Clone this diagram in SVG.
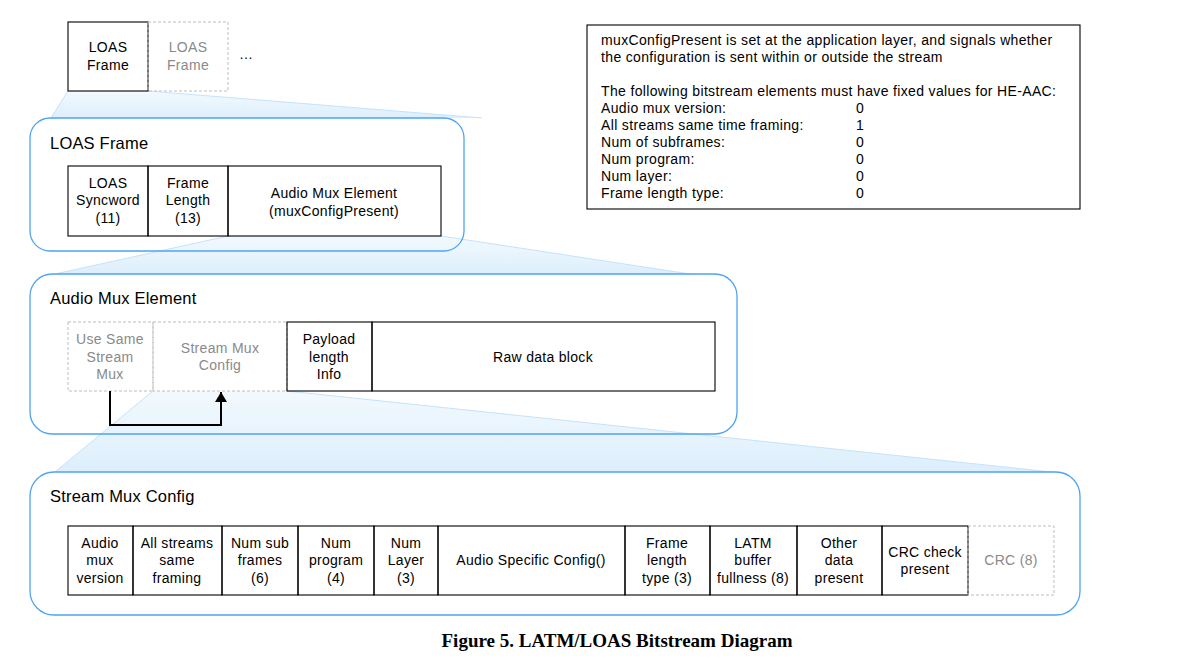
<svg xmlns="http://www.w3.org/2000/svg" width="1179" height="664" viewBox="0 0 1179 664">
<defs>
<linearGradient id="fan" x1="0" y1="0" x2="0" y2="1">
<stop offset="0" stop-color="#f3f9fe"/>
<stop offset="1" stop-color="#dceffc"/>
</linearGradient>
<marker id="arr" viewBox="0 0 10 12" refX="10" refY="6" markerWidth="10" markerHeight="12" orient="auto" markerUnits="userSpaceOnUse">
<path d="M0,0 L10,6 L0,12 Z" fill="#000"/>
</marker>
</defs>
<style>
text{font-family:"Liberation Sans",Arial,sans-serif;font-size:14px;letter-spacing:0.3px;fill:#000}
.c{text-anchor:middle}
.g{fill:#8a8a8a}
.t{font-size:16.5px;letter-spacing:0.2px}
.n{font-size:14px;letter-spacing:0.35px}
.box{fill:none;stroke:#000;stroke-width:1.1}
.dash{fill:none;stroke:#bdbdbd;stroke-width:1;stroke-dasharray:3,2}
.cont{fill:none;stroke:#4ea4f2;stroke-width:1.3}
.fan{fill:url(#fan);stroke:none}
.fanedge{fill:none;stroke:#c4e2fb;stroke-width:1}
.cap{font-family:"Liberation Serif","Times New Roman",serif;font-weight:bold;font-size:19px;letter-spacing:0}
</style>
<rect width="1179" height="664" fill="#fff"/>

<!-- zoom fans -->
<g id="fans">
<polygon class="fan" points="68,91 148,91 482,118 51,118"/>
<polyline class="fanedge" points="68,91 51,118"/><polyline class="fanedge" points="148,91 482,118"/>
<polygon class="fan" points="228,236 441,236 690,274 55,274"/>
<polyline class="fanedge" points="228,236 55,274"/><polyline class="fanedge" points="441,236 690,274"/>
<polygon class="fan" points="153,391 287,391 1052,472 55,472"/>
<polyline class="fanedge" points="153,391 55,472"/><polyline class="fanedge" points="287,391 1052,472"/>
</g>

<!-- top -->
<g id="loas-frame-1">
<rect class="box" x="68" y="22" width="80" height="69"/>
<text class="c" x="108" y="52">LOAS</text><text class="c" x="108" y="70">Frame</text>
</g>
<g id="loas-frame-2">
<rect class="dash" x="148" y="22" width="80" height="69"/>
<text class="c g" x="188" y="52">LOAS</text><text class="c g" x="188" y="70">Frame</text>
</g>
<g id="ellipsis"><text x="239" y="59">…</text></g>

<!-- note -->
<g id="note">
<rect class="box" x="587" y="25" width="493" height="184"/>
<text class="n" x="601" y="45">muxConfigPresent is set at the application layer, and signals whether</text>
<text class="n" x="601" y="62">the configuration is sent within or outside the stream</text>
<text class="n" x="601" y="96">The following bitstream elements must have fixed values for HE-AAC:</text>
<text class="n" x="601" y="113">Audio mux version:</text><text class="n" x="856" y="113">0</text>
<text class="n" x="601" y="130">All streams same time framing:</text><text class="n" x="856" y="130">1</text>
<text class="n" x="601" y="147">Num of subframes:</text><text class="n" x="856" y="147">0</text>
<text class="n" x="601" y="164">Num program:</text><text class="n" x="856" y="164">0</text>
<text class="n" x="601" y="181">Num layer:</text><text class="n" x="856" y="181">0</text>
<text class="n" x="601" y="198">Frame length type:</text><text class="n" x="856" y="198">0</text>
</g>

<!-- LOAS Frame container -->
<g id="loas-frame-detail">
<rect class="cont" x="30" y="118" width="434" height="133" rx="20"/>
<text class="t" x="50" y="149">LOAS Frame</text>
</g>
<g id="loas-syncword">
<rect class="box" x="68" y="166" width="80" height="70"/>
<text class="c" x="108" y="188">LOAS</text><text class="c" x="108" y="205">Syncword</text><text class="c" x="108" y="223">(11)</text>
</g>
<g id="frame-length">
<rect class="box" x="148" y="166" width="80" height="70"/>
<text class="c" x="188" y="188">Frame</text><text class="c" x="188" y="205">Length</text><text class="c" x="188" y="223">(13)</text>
</g>
<g id="audio-mux-element-field">
<rect class="box" x="228" y="166" width="213" height="70"/>
<text class="c" x="334" y="198">Audio Mux Element</text><text class="c" x="334" y="216">(muxConfigPresent)</text>
</g>

<!-- Audio Mux Element container -->
<g id="audio-mux-element-detail">
<rect class="cont" x="30" y="274" width="707" height="160" rx="22"/>
<text class="t" x="50" y="304">Audio Mux Element</text>
</g>
<g id="use-same-stream-mux">
<rect class="dash" x="68" y="322" width="85" height="69"/>
<text class="c g" x="110" y="344">Use Same</text><text class="c g" x="110" y="362">Stream</text><text class="c g" x="110" y="379">Mux</text>
</g>
<g id="stream-mux-config-field">
<rect class="dash" x="153" y="322" width="134" height="69"/>
<text class="c g" x="220" y="353">Stream Mux</text><text class="c g" x="220" y="370">Config</text>
</g>
<g id="payload-length-info">
<rect class="box" x="287" y="322" width="85" height="69"/>
<text class="c" x="329" y="344">Payload</text><text class="c" x="329" y="362">length</text><text class="c" x="329" y="379">Info</text>
</g>
<g id="raw-data-block">
<rect class="box" x="372" y="322" width="343" height="69"/>
<text class="c" x="543" y="362">Raw data block</text>
</g>

<!-- Stream Mux Config container -->
<g id="stream-mux-config-detail">
<rect class="cont" x="30" y="472" width="1050" height="143" rx="24"/>
<text class="t" x="50" y="502">Stream Mux Config</text>
</g>
<g id="audio-mux-version">
<rect class="box" x="68" y="526" width="65" height="69"/>
<text class="c" x="100" y="548">Audio</text><text class="c" x="100" y="565">mux</text><text class="c" x="100" y="583">version</text>
</g>
<g id="all-streams-same-framing">
<rect class="box" x="133" y="526" width="89" height="69"/>
<text class="c" x="177" y="548">All streams</text><text class="c" x="177" y="565">same</text><text class="c" x="177" y="583">framing</text>
</g>
<g id="num-sub-frames">
<rect class="box" x="222" y="526" width="76" height="69"/>
<text class="c" x="260" y="548">Num sub</text><text class="c" x="260" y="565">frames</text><text class="c" x="260" y="583">(6)</text>
</g>
<g id="num-program">
<rect class="box" x="298" y="526" width="76" height="69"/>
<text class="c" x="336" y="548">Num</text><text class="c" x="336" y="565">program</text><text class="c" x="336" y="583">(4)</text>
</g>
<g id="num-layer">
<rect class="box" x="374" y="526" width="64" height="69"/>
<text class="c" x="406" y="548">Num</text><text class="c" x="406" y="565">Layer</text><text class="c" x="406" y="583">(3)</text>
</g>
<g id="audio-specific-config">
<rect class="box" x="438" y="526" width="187" height="69"/>
<text class="c" x="531" y="565">Audio Specific Config()</text>
</g>
<g id="frame-length-type">
<rect class="box" x="625" y="526" width="85" height="69"/>
<text class="c" x="667" y="548">Frame</text><text class="c" x="667" y="565">length</text><text class="c" x="667" y="583">type (3)</text>
</g>
<g id="latm-buffer-fullness">
<rect class="box" x="710" y="526" width="87" height="69"/>
<text class="c" x="753" y="548">LATM</text><text class="c" x="753" y="565">buffer</text><text class="c" x="753" y="583">fullness (8)</text>
</g>
<g id="other-data-present">
<rect class="box" x="797" y="526" width="85" height="69"/>
<text class="c" x="839" y="548">Other</text><text class="c" x="839" y="565">data</text><text class="c" x="839" y="583">present</text>
</g>
<g id="crc-check-present">
<rect class="box" x="882" y="526" width="86" height="69"/>
<text class="c" x="925" y="557">CRC check</text><text class="c" x="925" y="574">present</text>
</g>
<g id="crc">
<rect class="dash" x="968" y="526" width="86" height="69"/>
<text class="c g" x="1011" y="565">CRC (8)</text>
</g>

<!-- connectors -->
<g id="connectors">
<polyline points="110,391 110,425 221,425 221,392" fill="none" stroke="#000" stroke-width="2" marker-end="url(#arr)"/>
</g>

<g id="caption"><text class="cap c" x="617" y="647">Figure 5. LATM/LOAS Bitstream Diagram</text></g>
</svg>
